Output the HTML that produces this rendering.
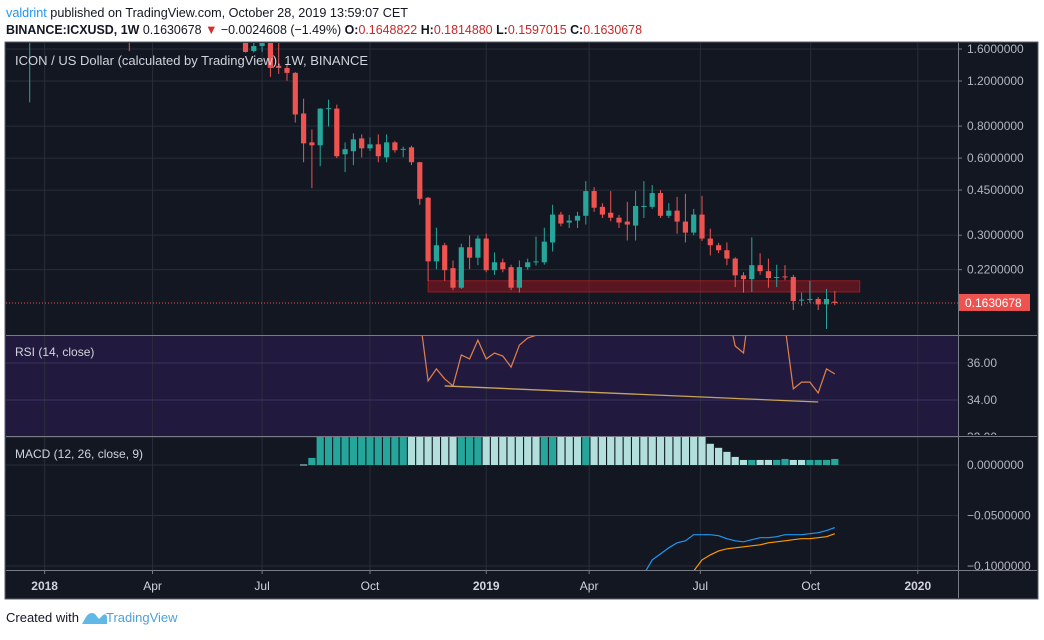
<!DOCTYPE html>
<html><head><meta charset="utf-8">
<style>
html,body{margin:0;padding:0;background:#fff;}
body{width:1044px;height:635px;overflow:hidden;font-family:"Liberation Sans",sans-serif;}
svg text{font-family:"Liberation Sans",sans-serif;}
</style></head>
<body>
<svg id="chart" width="1044" height="635" viewBox="0 0 1044 635" xmlns="http://www.w3.org/2000/svg">
  <rect x="0" y="0" width="1044" height="635" fill="#ffffff"/>
  <text x="6" y="17" font-size="13" fill="#131722" textLength="402" lengthAdjust="spacingAndGlyphs"><tspan fill="#2196f3">valdrint</tspan> published on TradingView.com, October 28, 2019 13:59:07 CET</text>
  <text x="6" y="34" font-size="13" fill="#131722" textLength="636" lengthAdjust="spacingAndGlyphs"><tspan font-weight="bold">BINANCE:ICXUSD, 1W</tspan> 0.1630678 <tspan fill="#d32f2f">▼</tspan> −0.0024608 (−1.49%) <tspan font-weight="bold">O:</tspan><tspan fill="#c62828">0.1648822</tspan> <tspan font-weight="bold">H:</tspan><tspan fill="#c62828">0.1814880</tspan> <tspan font-weight="bold">L:</tspan><tspan fill="#c62828">0.1597015</tspan> <tspan font-weight="bold">C:</tspan><tspan fill="#c62828">0.1630678</tspan></text>
  <rect x="5" y="42" width="1033" height="557" fill="#131722" stroke="#5d606b" stroke-width="1"/>
  <rect x="6" y="336" width="952" height="100" fill="#221a3e"/>
  <defs>
    <clipPath id="cp-price"><rect x="6" y="43" width="952" height="292"/></clipPath>
    <clipPath id="cp-rsi"><rect x="6" y="336" width="952" height="100"/></clipPath>
    <clipPath id="cp-macd"><rect x="6" y="437" width="952" height="133"/></clipPath>
    <clipPath id="cp-axis-rsi"><rect x="959" y="336" width="78" height="99"/></clipPath>
  </defs>
  <g id="grid"></g>
  <g id="price" clip-path="url(#cp-price)"></g>
  <g id="rsi" clip-path="url(#cp-rsi)"></g>
  <g id="macd" clip-path="url(#cp-macd)"></g>
  <g id="axes"></g>
  <g id="rsiaxis" clip-path="url(#cp-axis-rsi)"></g>
  <text x="15" y="65" font-size="13" fill="#d1d4dc">ICON / US Dollar (calculated by TradingView), 1W, BINANCE</text>
  <text x="15" y="356" font-size="12" fill="#d1d4dc">RSI (14, close)</text>
  <text x="15" y="458" font-size="12" fill="#d1d4dc">MACD (12, 26, close, 9)</text>
  <text x="6" y="622" font-size="13" fill="#131722">Created with</text>
  <g>
    <path d="M82 624 L86 617 Q90 611 95 614 L99 619 L103 615 Q106 613 107 617 L107 624 Z" fill="#5fb8e6"/>
    <text x="106" y="622" font-size="13" fill="#4aa3d8">TradingView</text>
  </g>
</svg>
<script>
// ---- data (week index 0 = late Jul 2018) ----
const startIndex = -31;
const opens = [2.0,3.4,3.9,3.2,2.9,2.6,2.8,2.5,2.3,2.1,2.0,2.6,2.2,2.0,2.6,2.4,2.7,2.5,2.3,2.1,2.2,2.0,1.9,2.0,1.85,1.8,
1.72,1.572,1.643,1.75,1.375,1.35,1.291,0.896,0.691,0.673,0.936,0.936,0.621,0.638,0.716,0.655,0.679,0.604,0.691,0.648,0.661,0.578,0.42,0.237,0.274,0.223,0.187,0.269,0.245,0.291,0.219,0.235,0.225,0.187,0.225,0.235,0.235,0.281,0.361,0.336,0.342,0.357,0.446,0.387,0.367,0.351,0.339,0.327,0.388,0.387,0.438,0.357,0.374,0.339,0.307,0.361,0.291,0.274,0.262,0.243,0.209,0.202,0.229,0.217,0.205,0.207,0.206,0.167,0.168,0.169,0.161,0.1649];
const highs = [2.6,4.0,4.2,3.5,3.1,2.9,3.0,2.7,2.6,2.3,2.7,2.8,2.4,2.7,2.8,2.9,2.9,2.6,2.4,2.3,2.3,2.1,2.0,2.1,1.95,1.85,
1.80,1.70,1.75,1.80,1.688,1.40,1.30,1.024,0.776,0.94,1.015,0.970,0.691,0.749,0.742,0.723,0.742,0.742,0.70,0.665,0.67,0.58,0.423,0.321,0.28,0.239,0.278,0.299,0.299,0.304,0.257,0.243,0.23,0.239,0.243,0.296,0.321,0.394,0.37,0.36,0.37,0.488,0.462,0.40,0.446,0.36,0.405,0.446,0.488,0.471,0.45,0.40,0.423,0.435,0.38,0.427,0.318,0.28,0.281,0.246,0.215,0.294,0.255,0.243,0.23,0.229,0.21,0.179,0.199,0.172,0.185,0.1815];
const lows = [0.99,3.0,3.1,2.8,2.5,2.4,2.4,2.2,2.0,1.9,1.85,2.1,1.57,1.9,2.2,2.3,2.4,2.2,2.0,2.0,1.9,1.85,1.8,1.8,1.75,1.72,
1.55,1.55,1.558,1.246,1.28,1.202,0.826,0.578,0.458,0.558,0.797,0.60,0.529,0.563,0.604,0.64,0.578,0.578,0.63,0.605,0.563,0.394,0.199,0.221,0.199,0.183,0.185,0.221,0.229,0.215,0.21,0.215,0.183,0.179,0.22,0.228,0.23,0.259,0.325,0.32,0.32,0.33,0.37,0.35,0.34,0.32,0.286,0.286,0.35,0.38,0.35,0.35,0.304,0.281,0.30,0.285,0.25,0.255,0.229,0.188,0.179,0.18,0.21,0.187,0.188,0.20,0.153,0.159,0.163,0.153,0.129,0.1597];
const closes = [2.5,3.2,3.3,2.9,2.6,2.8,2.5,2.3,2.1,2.0,2.6,2.2,2.0,2.6,2.4,2.7,2.5,2.3,2.1,2.2,2.0,1.9,2.0,1.85,1.8,1.72,
1.558,1.643,1.70,1.35,1.35,1.291,0.888,0.685,0.673,0.936,0.94,0.610,0.650,0.710,0.655,0.679,0.610,0.691,0.644,0.652,0.578,0.416,0.237,0.274,0.219,0.187,0.269,0.245,0.291,0.219,0.235,0.221,0.187,0.225,0.235,0.237,0.283,0.361,0.333,0.342,0.357,0.446,0.384,0.361,0.351,0.336,0.330,0.390,0.390,0.438,0.357,0.374,0.339,0.307,0.361,0.291,0.274,0.262,0.243,0.209,0.202,0.229,0.217,0.204,0.206,0.206,0.166,0.168,0.169,0.161,0.169,0.1631];
const priceTicks = [1.6,1.2,0.8,0.6,0.45,0.3,0.22];
const priceTickLabels = ["1.6000000","1.2000000","0.8000000","0.6000000","0.4500000","0.3000000","0.2200000"];
const lastPrice = 0.1630678;
const lastPriceLabel = "0.1630678";
const supportZone = {from: 17, to: 69, top: 0.199, bottom: 0.180};

const rsiStart = 14;
const rsiValues = [42,40,38.5,35.03,35.68,35.14,34.76,36.43,36.22,37.24,36.22,36.54,36.38,35.78,36.97,37.35,37.5,39,45,48,52,55,57,58,56,55,57,58,56,54,55,53,50,48,46,45,44,42,40,39,36.92,36.54,40,39,38,38.5,38,34.6,34.97,34.97,34.38,35.68,35.41];
const rsiTicks = [36,34,32];
const rsiTickLabels = ["36.00","34.00","32.00"];
const rsiTrend = {i1: 19, v1: 34.76, i2: 64, v2: 33.89};

const histStart = 2;
const histValues = [0.0005,0.007,0.04,0.04,0.04,0.04,0.04,0.04,0.04,0.04,0.04,0.04,0.04,0.04,0.04,0.04,0.04,0.04,0.04,0.04,0.04,0.04,0.04,0.04,0.04,0.04,0.04,0.04,0.04,0.04,0.04,0.04,0.04,0.04,0.04,0.04,0.04,0.04,0.04,0.04,0.04,0.04,0.04,0.04,0.04,0.04,0.04,0.04,0.04,0.021,0.017,0.013,0.008,0.005,0.005,0.005,0.005,0.005,0.006,0.005,0.005,0.005,0.005,0.005,0.006];
const histDark = [0,1,1,1,1,1,1,1,1,1,1,1,1,0,0,0,0,0,0,1,1,1,0,0,0,0,0,0,0,1,1,0,0,0,1,0,0,0,0,0,0,0,0,0,0,0,0,0,0,0,0,0,0,0,1,0,0,1,1,0,0,1,1,1,1];
const macdStart = 40;
const macdValues = [-0.15,-0.13,-0.12,-0.108,-0.094,-0.088,-0.082,-0.077,-0.075,-0.069,-0.069,-0.069,-0.070,-0.073,-0.075,-0.076,-0.074,-0.072,-0.072,-0.071,-0.069,-0.069,-0.069,-0.068,-0.067,-0.065,-0.062];
const signalStart = 46;
const signalValues = [-0.14,-0.13,-0.12,-0.105,-0.094,-0.089,-0.085,-0.083,-0.082,-0.081,-0.080,-0.079,-0.077,-0.076,-0.075,-0.074,-0.073,-0.073,-0.072,-0.071,-0.068];
const macdTicks = [0,-0.05,-0.1];
const macdTickLabels = ["0.0000000","−0.0500000","−0.1000000"];

const timeTicks = [-29.2,-16.2,-3,10,24,36.4,49.8,63.1,76];
const timeTickLabels = ["2018","Apr","Jul","Oct","2019","Apr","Jul","Oct","2020"];
const timeTickBold = [1,0,0,0,1,0,0,0,1];

// ---- scales ----
const NS = "http://www.w3.org/2000/svg";
const X0 = 287, STEP = 8.3;
function xS(i){ return X0 + i*STEP; }
const PK = 254/Math.log(1.6/0.163);
function yP(p){ return 49 + (Math.log(1.6) - Math.log(p))*PK; }
function yR(v){ return 363 - (v-36)*18.5; }
function yM(v){ return 465 - v*1010; }
function mk(tag, attrs, parent){
  const e = document.createElementNS(NS, tag);
  for (const k in attrs) e.setAttribute(k, attrs[k]);
  parent.appendChild(e);
  return e;
}
const grid = document.getElementById('grid');
const price = document.getElementById('price');
const rsi = document.getElementById('rsi');
const macd = document.getElementById('macd');
const axes = document.getElementById('axes');
const rsiaxis = document.getElementById('rsiaxis');

timeTicks.forEach((t, k) => {
  const gx = xS(t);
  const l = mk('line', {x1: gx, x2: gx, y1: 43, y2: 570, stroke: '#2a2e39', 'stroke-width': 1}, grid);
  
  
  const tk = mk('line', {x1: gx, x2: gx, y1: 570, y2: 574, stroke: '#787b86'}, axes);
  
  
  const tx = mk('text', {x: gx, y: 590, 'font-size': 12, fill: '#d1d4dc', 'text-anchor': 'middle', 'font-weight': timeTickBold[k] ? 'bold' : 'normal'}, axes);
  tx.textContent = timeTickLabels[k];
  
  
});
priceTicks.forEach((p, k) => {
  const gy = yP(p);
  const l = mk('line', {x1: 6, x2: 958, y1: gy, y2: gy, stroke: '#2a2e39'}, grid);
  
  
  const tk = mk('line', {x1: 958, x2: 962, y1: gy, y2: gy, stroke: '#787b86'}, axes);
  
  
  const tx = mk('text', {x: 967, y: gy + 4, 'font-size': 12, fill: '#b2b5be'}, axes);
  tx.textContent = priceTickLabels[k];
  
  
});
rsiTicks.forEach((v, k) => {
  const gy = yR(v);
  const l = mk('line', {x1: 6, x2: 958, y1: gy, y2: gy, stroke: '#3b3360'}, grid);
  
  
  const tx = mk('text', {x: 967, y: gy + 4, 'font-size': 12, fill: '#b2b5be'}, rsiaxis);
  tx.textContent = rsiTickLabels[k];
  
  
});
macdTicks.forEach((v, k) => {
  const gy = yM(v);
  const l = mk('line', {x1: 6, x2: 958, y1: gy, y2: gy, stroke: '#2a2e39'}, grid);
  
  
  const tx = mk('text', {x: 967, y: gy + 4, 'font-size': 12, fill: '#b2b5be'}, axes);
  tx.textContent = macdTickLabels[k];
  
  
});

const zr = mk('rect', {x: xS(supportZone.from), y: yP(supportZone.top), width: xS(supportZone.to) - xS(supportZone.from), height: yP(supportZone.bottom) - yP(supportZone.top), fill: 'rgba(160,20,30,0.5)', stroke: '#9c1c24', 'stroke-width': 1}, price);



opens.forEach((o, k) => {
  const i = startIndex + k;
  const c = closes[k], h = highs[k], lo = lows[k];
  const up = c >= o;
  const col = up ? '#26a69a' : '#ef5350';
  const cx = xS(i);
  const w = mk('line', {x1: cx, x2: cx, y1: yP(h), y2: yP(lo), stroke: col, 'stroke-width': 1}, price);
  
  
  const yt = yP(Math.max(o, c)), yb = yP(Math.min(o, c));
  const b = mk('rect', {x: cx - 2.6, y: yt, width: 5.2, height: Math.max(1, yb - yt), fill: col}, price);
  
  
});

const lpY = yP(lastPrice);
const lp = mk('line', {x1: 6, x2: 958, y1: lpY, y2: lpY, stroke: '#ef5350', 'stroke-width': 1, 'stroke-dasharray': '1 2'}, price);


const lpb = mk('rect', {x: 958, y: lpY - 9, width: 72, height: 17, fill: '#ef5350'}, axes);


const lpt = mk('text', {x: 965, y: lpY + 4, 'font-size': 12, fill: '#ffffff'}, axes);
lpt.textContent = lastPriceLabel;



const rsiPts = rsiValues.map((v, k) => xS(rsiStart + k).toFixed(1) + ',' + yR(v).toFixed(1)).join(' ');
const rl = mk('polyline', {points: rsiPts, fill: 'none', stroke: '#e0814c', 'stroke-width': 1.2}, rsi);


const tl = mk('line', {x1: xS(rsiTrend.i1), y1: yR(rsiTrend.v1), x2: xS(rsiTrend.i2), y2: yR(rsiTrend.v2), stroke: '#c9a45a', 'stroke-width': 1.3}, rsi);



histValues.forEach((v, k) => {
  const cx = xS(histStart + k);
  const y0 = yM(0), y1 = yM(v);
  const r = mk('rect', {x: cx - 3.6, y: Math.min(y0, y1), width: 7.2, height: Math.max(1, Math.abs(y0 - y1)), fill: histDark[k] ? '#26a69a' : '#b2dfdb'}, macd);
  
  
});
const mPts = macdValues.map((v, k) => xS(macdStart + k).toFixed(1) + ',' + yM(v).toFixed(1)).join(' ');
const ml = mk('polyline', {points: mPts, fill: 'none', stroke: '#2196f3', 'stroke-width': 1.2}, macd);


const sPts = signalValues.map((v, k) => xS(signalStart + k).toFixed(1) + ',' + yM(v).toFixed(1)).join(' ');
const sl = mk('polyline', {points: sPts, fill: 'none', stroke: '#ff9800', 'stroke-width': 1.2}, macd);



[[6, 335.5, 1037, 335.5], [6, 436.5, 1037, 436.5], [6, 570.5, 1037, 570.5], [958.5, 43, 958.5, 598]].forEach(s => {
  const l = mk('line', {x1: s[0], y1: s[1], x2: s[2], y2: s[3], stroke: '#787b86', 'stroke-width': 1}, axes);
  
  
});
</script>
</body></html>
